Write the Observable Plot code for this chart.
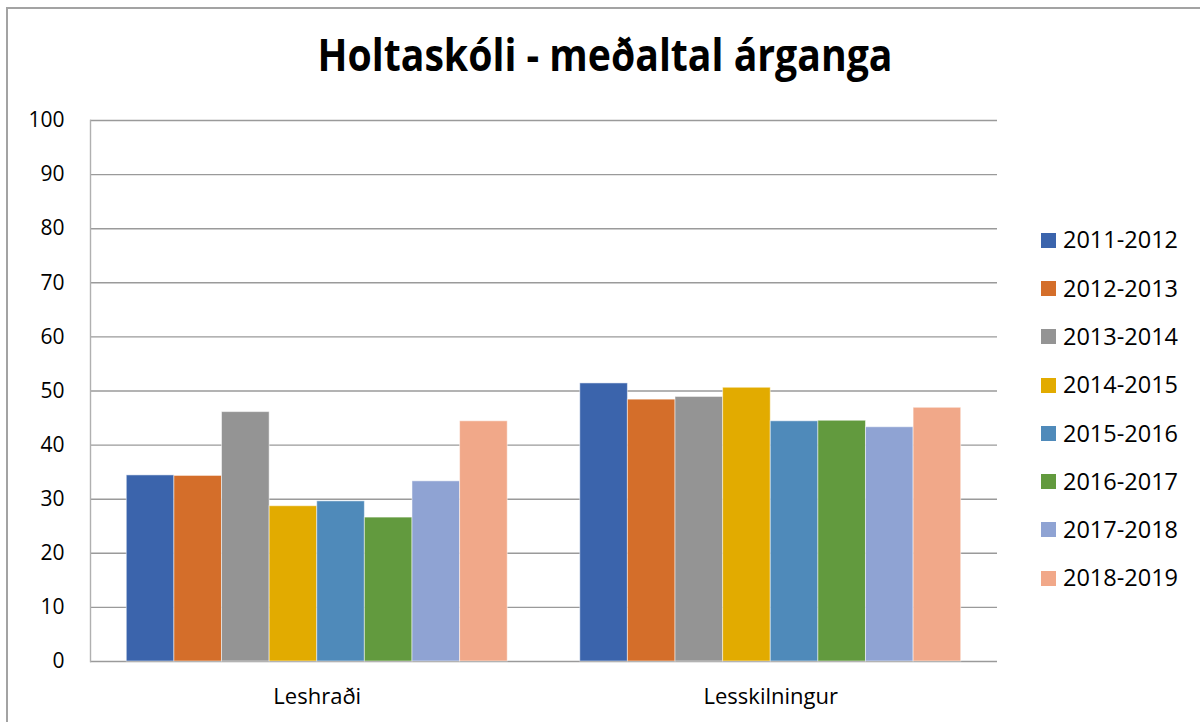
<!DOCTYPE html>
<html>
<head>
<meta charset="utf-8">
<script src="https://cdn.jsdelivr.net/npm/d3@7"></script>
<script src="https://cdn.jsdelivr.net/npm/@observablehq/plot@0.6"></script>
<style>
  html, body { margin: 0; padding: 0; background: #fff; overflow: hidden; }
  #wrap { position: relative; width: 1200px; height: 722px; overflow: hidden; font-family: "Open Sans", sans-serif; }
  #border { position: absolute; left: 6px; top: 7px; width: 1300px; height: 800px; border: 2px solid #a3a3a3; box-sizing: border-box; }
  .layer { position: absolute; left: 0; top: 0; }
  #title { position: absolute; left: 605px; top: 32px; font-weight: 700; font-size: 44px; line-height: 1; white-space: nowrap; color: #000; transform-origin: center top; }
  #legend { position: absolute; left: 1041px; top: 216px; }
  .row { display: flex; align-items: center; height: 48.3px; }
  .sw { width: 15px; height: 15px; margin-right: 7px; }
  .lab { font-size: 23.5px; line-height: 1; color: #000; }
</style>
</head>
<body>
<div id="wrap">
  <div id="border"></div>
  <div id="bg" class="layer"></div>
  <div id="fg" class="layer"></div>
  <div id="title">Holtaskóli - meðaltal árganga</div>
  <div id="legend"></div>
</div>
<script>
const categories = ["Leshraði", "Lesskilningur"];
const years = ["2011-2012", "2012-2013", "2013-2014", "2014-2015", "2015-2016", "2016-2017", "2017-2018", "2018-2019"];
const leshradi = [34.4, 34.3, 46.1, 28.7, 29.6, 26.6, 33.3, 44.4];
const lesskilningur = [51.4, 48.4, 48.9, 50.6, 44.4, 44.5, 43.3, 46.9];
const colors = ["#3b64ac", "#d46e2a", "#949494", "#e2ab00", "#4f8aba", "#629a3e", "#8fa3d3", "#f1a889"];
const yTicks = [0, 10, 20, 30, 40, 50, 60, 70, 80, 90, 100];

const seriesByCategory = [leshradi, lesskilningur];
const data = [];
categories.forEach((c, ci) => years.forEach((y, yi) => data.push({category: c, year: y, value: seriesByCategory[ci][yi]})));

const dims = {width: 1200, height: 722, marginLeft: 90, marginRight: 203, marginTop: 120, marginBottom: 61};
const bandOpts = {domain: categories, paddingInner: 0.16, paddingOuter: 0.08, round: false};

// Background: gridlines, axes
const bg = Plot.plot({
  ...dims,
  style: {fontFamily: "Open Sans, sans-serif", color: "#000", background: "transparent"},
  x: {...bandOpts, axis: null},
  y: {domain: [0, 100], axis: null},
  marks: [
    Plot.ruleY(yTicks, {stroke: "#9a9a9a", strokeWidth: 1.4}),
    Plot.frame({anchor: "left", stroke: "#b0b0b0", strokeWidth: 1.4}),
    Plot.axisY(yTicks, {anchor: "left", tickSize: 0, tickPadding: 26, fontSize: 21, label: null, fill: "#000"}),
    Plot.axisX({anchor: "bottom", tickSize: 0, tickPadding: 27, fontSize: 22, label: null, fill: "#000"})
  ]
});
document.getElementById("bg").appendChild(bg);

// Foreground: grouped bars
const fg = Plot.plot({
  ...dims,
  style: {background: "transparent"},
  fx: {...bandOpts, axis: null, label: null},
  x: {domain: years, padding: 0, round: false, axis: null},
  y: {domain: [0, 100], axis: null},
  color: {domain: years, range: colors},
  marks: [
    Plot.barY(data, {fx: "category", x: "year", y: "value", fill: "year", stroke: "#fff", strokeOpacity: 0.5, strokeWidth: 1})
  ]
});
document.getElementById("fg").appendChild(fg);

const legend = document.getElementById("legend");
years.forEach((y, i) => {
  const row = document.createElement("div");
  row.className = "row";
  const sw = document.createElement("div");
  sw.className = "sw";
  sw.style.background = colors[i];
  const lab = document.createElement("span");
  lab.className = "lab";
  lab.textContent = y;
  row.appendChild(sw);
  row.appendChild(lab);
  legend.appendChild(row);
});

const title = document.getElementById("title");
const w = title.getBoundingClientRect().width;
const s = 575 / w;
title.style.transform = `translateX(-50%) scaleX(${s})`;
</script>
</body>
</html>
